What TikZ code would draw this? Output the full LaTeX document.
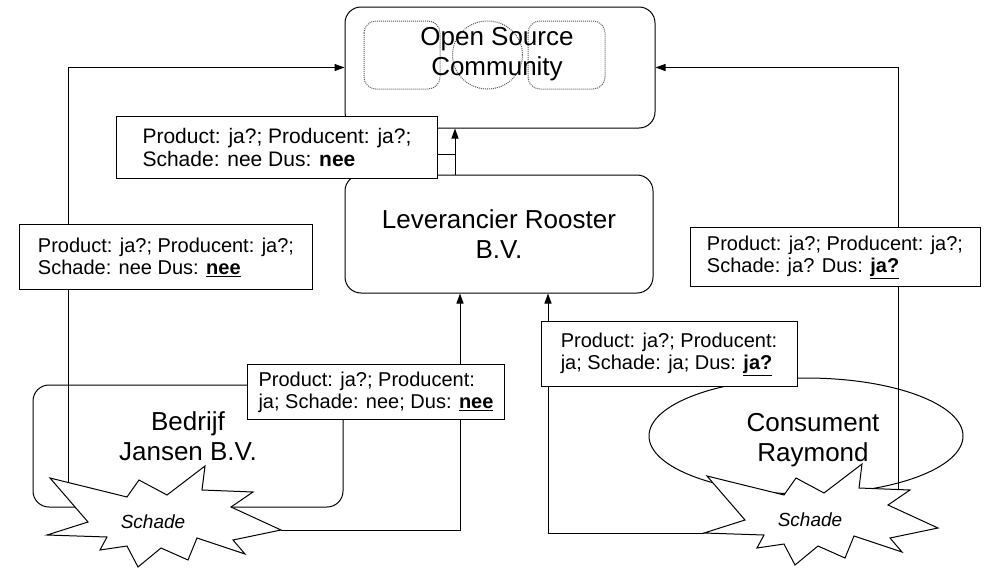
\documentclass[tikz,border=0pt]{standalone}
\usepackage{fontspec}
\setmainfont{Liberation Sans}
\usepackage{tikz}
\usetikzlibrary{arrows.meta,positioning,shapes.geometric}
\tikzset{
    >={Triangle[length=10pt,width=7pt]},
    party/.style={draw,rounded corners=16pt,inner sep=0pt},
    name text/.style={align=center,inner sep=0pt,font=\fontsize{26}{30}\selectfont},
    verdict/.style={draw,fill=white,align=left,inner sep=0pt,font=\fontsize{20}{22}\selectfont},
    damage/.style={draw,fill=white,line join=miter},
    damage text/.style={inner sep=0pt,font=\fontsize{19}{22}\selectfont\itshape},
    community/.style={densely dotted,gray!70!black}
}
\newcommand{\schadeburst}{(-103,-44) -- (-26,-25) -- (-14,-42) -- (14,-27) -- (52,-56) -- (49,-32) -- (100,-30) -- (78,-15) -- (128,8) -- (80,18) -- (92,32) -- (44,16) -- (35,38) -- (8,26) -- (-15,45) -- (-26,24) -- (-53,28) -- (-46,15) -- (-106,13) -- (-65,0) -- cycle}

\begin{document}
\begin{tikzpicture}[x=1pt,y=-1pt,line width=1pt]
    \useasboundingbox (0,0) rectangle (989,568);
    % the community itself
    \draw[community,rounded corners=12pt] (364,21) rectangle (440,89);
    \draw[community] (487.5,55) ellipse (35pt and 34pt);
    \draw[community,rounded corners=12pt] (528,21) rectangle (605,89);
    \node[party,minimum width=310pt,minimum height=121pt] (osc) at (500,67.5) {};
    \node[name text] (osclabel) at (497,54) {Open Source\\Community};
    \node[party,name text,minimum width=308pt,minimum height=118pt] (lev) at (499,234) {Leverancier Rooster\\B.V.};
    \node[party,minimum width=310pt,minimum height=122pt] (jansen) at (188,446) {};
    \node[name text] (jansenlabel) at (188,436) {Bedrijf\\Jansen B.V.};
    \node[ellipse,draw,fill=white,inner sep=0pt,minimum width=314pt,minimum height=116pt] (raymond) at (806,436) {};
    \node[name text] (raymondlabel) at (813,440) {Consument\\Raymond};
    % schade
    \begin{scope}[shift={(153,522)}]
        \draw[damage] \schadeburst;
        \coordinate (s1top) at (-85,-39.6);
        \coordinate (s1tip) at (128,8);
    \end{scope}
    \node[damage text] (schade1) at (153,522) {Schade};
    \begin{scope}[shift={(810,520)}]
        \draw[damage] \schadeburst;
        \coordinate (s2top) at (88,-30.5);
        \coordinate (s2tip) at (-106,13);
    \end{scope}
    \node[damage text] (schade2) at (810,520) {Schade};
    % claims
    \coordinate (levup) at ([xshift=-44pt]lev.north);
    \draw[->] (s1top) |- (osc.west);
    \draw[->] (s2top) |- (osc.east);
    \draw[->] (s1tip) -| ([xshift=-39pt]lev.south);
    \draw[->] (s2tip) -| ([xshift=49pt]lev.south);
    \draw[->] (levup) -- (levup |- osc.south);
    % verdicts
    \node[verdict,font=\fontsize{21}{23}\selectfont,minimum width=321pt,minimum height=62pt] (l1) at (277,147) {Product: ja?; Producent: ja?;\\Schade: nee Dus: \textbf{nee}};
    \coordinate (l1hook) at ([yshift=-7pt]l1.east);
    \draw (l1hook) -- (l1hook -| levup);
    \node[verdict,minimum width=293pt,minimum height=65pt] (l2) at (166,257) {Product: ja?; Producent: ja?;\\Schade: nee Dus: \underline{\textbf{nee}}};
    \node[verdict,minimum width=290pt,minimum height=59pt] (l3) at (835,257) {Product: ja?; Producent: ja?;\\Schade: ja? Dus: \underline{\textbf{ja?}}};
    \node[verdict,minimum width=257pt,minimum height=55pt] (l4) at (376,392) {Product: ja?; Producent:\\ja; Schade: nee; Dus: \underline{\textbf{nee}}};
    \node[verdict,minimum width=256pt,minimum height=65pt] (l5) at (669,354) {Product: ja?; Producent:\\ja; Schade: ja; Dus: \underline{\textbf{ja?}}};
\end{tikzpicture}
\end{document}
